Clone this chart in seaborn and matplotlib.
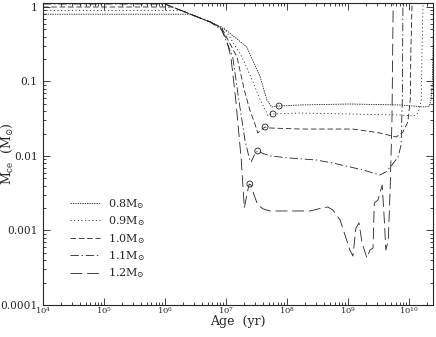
import numpy as np
import pandas as pd
import matplotlib
matplotlib.use("Agg")
import matplotlib.pyplot as plt
import seaborn as sns
from matplotlib.ticker import LogLocator, NullFormatter
from matplotlib.lines import Line2D

# ---- data (log10 of age in yr, log10 of convective-envelope mass in Msun) ----
masses = ["0.8", "0.9", "1.0", "1.1", "1.2"]

log_age_08 = [4.00, 6.41, 6.57, 6.74, 7.00, 7.34, 7.56, 7.67, 7.75, 7.82, 7.87, 8.21, 9.03, 9.85, 10.26, 10.33, 10.36, 10.38, 10.41]
log_mce_08 = [-0.097, -0.097, -0.148, -0.201, -0.309, -0.537, -0.940, -1.248, -1.342, -1.329, -1.329, -1.315, -1.302, -1.315, -1.342, -1.329, -1.248, -1.047, 0.054]

log_age_09 = [4.00, 6.25, 6.49, 6.74, 6.97, 7.26, 7.43, 7.56, 7.66, 7.69, 7.74, 7.77, 8.21, 9.03, 9.85, 10.08, 10.15, 10.20, 10.21, 10.23]
log_mce_09 = [-0.046, -0.046, -0.121, -0.201, -0.282, -0.671, -0.980, -1.248, -1.409, -1.463, -1.436, -1.436, -1.423, -1.436, -1.450, -1.463, -1.423, -1.248, -0.711, 0.054]

log_age_10 = [4.00, 6.11, 6.33, 6.74, 6.93, 7.18, 7.30, 7.39, 7.48, 7.52, 7.59, 7.64, 7.72, 8.21, 9.08, 9.52, 9.79, 9.90, 9.98, 10.02, 10.03, 10.05]
log_mce_10 = [0.0, 0.0, -0.067, -0.201, -0.282, -0.671, -1.114, -1.383, -1.584, -1.691, -1.638, -1.611, -1.624, -1.638, -1.638, -1.691, -1.745, -1.678, -1.544, -1.248, -0.577, 0.054]

log_age_11 = [4.00, 6.00, 6.33, 6.74, 6.93, 7.11, 7.21, 7.31, 7.38, 7.41, 7.48, 7.52, 7.59, 7.72, 8.05, 8.48, 8.75, 9.25, 9.52, 9.62, 9.72, 9.82, 9.87, 9.89, 9.90]
log_mce_11 = [0.040, 0.040, -0.067, -0.201, -0.309, -0.671, -1.248, -1.785, -2.027, -2.081, -1.960, -1.933, -1.960, -2.000, -2.027, -2.054, -2.094, -2.188, -2.255, -2.215, -2.121, -2.013, -1.852, -1.248, 0.054]

log_age_12 = [4.00, 5.92, 6.00, 6.33, 6.74, 6.90, 7.00, 7.08, 7.16, 7.25, 7.30, 7.34, 7.38, 7.41, 7.46, 7.52, 7.61, 7.72, 8.05, 8.38, 8.57, 8.67, 8.75, 8.87, 8.95, 9.03, 9.08, 9.13, 9.18, 9.23, 9.31, 9.36, 9.41, 9.43, 9.49, 9.56, 9.59, 9.62, 9.66, 9.69, 9.72, 9.74]
log_mce_12 = [0.079, 0.079, 0.040, -0.067, -0.201, -0.268, -0.416, -0.671, -1.248, -2.054, -2.698, -2.523, -2.376, -2.389, -2.523, -2.658, -2.711, -2.738, -2.738, -2.738, -2.698, -2.685, -2.725, -2.859, -3.060, -3.262, -3.342, -2.966, -2.899, -3.168, -3.369, -3.262, -3.235, -2.631, -2.591, -2.389, -2.792, -3.262, -3.128, -2.456, -1.517, 0.054]

# ZAMS markers (open circles)
zams_log_age = [7.87, 7.77, 7.64, 7.52, 7.39]
zams_log_mce = [-1.329, -1.436, -1.611, -1.933, -2.376]

x_ticks = [1e4, 1e5, 1e6, 1e7, 1e8, 1e9, 1e10]
x_tick_labels = [r"$10^{4}$", r"$10^{5}$", r"$10^{6}$", r"$10^{7}$", r"$10^{8}$", r"$10^{9}$", r"$10^{10}$"]
y_ticks = [1e-4, 1e-3, 1e-2, 1e-1, 1.0]
y_tick_labels = ["0.0001", "0.001", "0.01", "0.1", "1"]

series = {
    "0.8": (log_age_08, log_mce_08),
    "0.9": (log_age_09, log_mce_09),
    "1.0": (log_age_10, log_mce_10),
    "1.1": (log_age_11, log_mce_11),
    "1.2": (log_age_12, log_mce_12),
}
rows = []
for m in masses:
    la, lm = series[m]
    for a, b in zip(la, lm):
        rows.append({"mass": m, "age": 10 ** a, "mce": 10 ** b})
df = pd.DataFrame(rows)
zams = pd.DataFrame({"age": 10 ** np.array(zams_log_age), "mce": 10 ** np.array(zams_log_mce)})

# ---- style ----
sns.set_style("ticks")
plt.rcParams["font.family"] = ["DejaVu Serif"]
plt.rcParams["mathtext.fontset"] = "dejavuserif"
plt.rcParams["lines.scale_dashes"] = False
plt.rcParams["axes.linewidth"] = 0.8

styles = {
    "0.8": (0, (1.0, 0.7)),
    "0.9": (0, (0.8, 1.8)),
    "1.0": (0, (4.0, 2.0)),
    "1.1": (0, (6.0, 2.0, 1.0, 2.0)),
    "1.2": (0, (8.5, 3.5)),
}

fig = plt.figure(figsize=(4.36, 3.37), dpi=100)
ax = fig.add_axes([43 / 436, 1 - 305 / 337, 390 / 436, 302.3 / 337])

for m in masses:
    sub = df[df["mass"] == m]
    sns.lineplot(data=sub, x="age", y="mce", ax=ax, sort=False, estimator=None,
                 color="#222222", linewidth=0.6, linestyle=styles[m], legend=False)

sns.scatterplot(data=zams, x="age", y="mce", ax=ax, marker="o", s=18,
                facecolor="none", edgecolor="#222222", linewidth=0.6, legend=False)

ax.set_xscale("log")
ax.set_yscale("log")
ax.set_xlim(1e4, 2.47e10)
ax.set_ylim(1e-4, 1.142)

ax.set_xticks(x_ticks, x_tick_labels)
ax.set_yticks(y_ticks, y_tick_labels)
ax.xaxis.set_minor_locator(LogLocator(base=10, subs=np.arange(2, 10), numticks=20))
ax.yaxis.set_minor_locator(LogLocator(base=10, subs=np.arange(2, 10), numticks=20))
ax.xaxis.set_minor_formatter(NullFormatter())
ax.yaxis.set_minor_formatter(NullFormatter())
ax.tick_params(which="both", direction="in", top=True, right=True, width=0.6, color="#222222")
ax.tick_params(which="major", length=5)
ax.tick_params(which="minor", length=2.5)
ax.tick_params(axis="x", labelsize=6, pad=0.3)
ax.tick_params(axis="y", labelsize=7.6, pad=4)

ax.set_xlabel("Age  (yr)", fontsize=9)
ax.xaxis.label.set_va("center")
ax.xaxis.set_label_coords(0.5, -(322 - 305) / 302.3)
ax.set_ylabel(r"M$_{\rm ce}$  (M$_{\odot}$)", fontsize=9)
ax.yaxis.set_label_coords(-(43 - 15) / 390, 0.5)

handles = [Line2D([0], [0], color="#222222", lw=0.6, linestyle=styles[m]) for m in masses]
labels = [m + r"M$_{\odot}$" for m in masses]
ax.legend(handles, labels, loc="upper left", bbox_to_anchor=((70 - 43) / 390, (305 - 197) / 302.3),
          frameon=False, fontsize=8, handlelength=2.7, handletextpad=0.7,
          labelspacing=0.32, borderpad=0, borderaxespad=0)

fig.savefig("out.png", dpi=100)
